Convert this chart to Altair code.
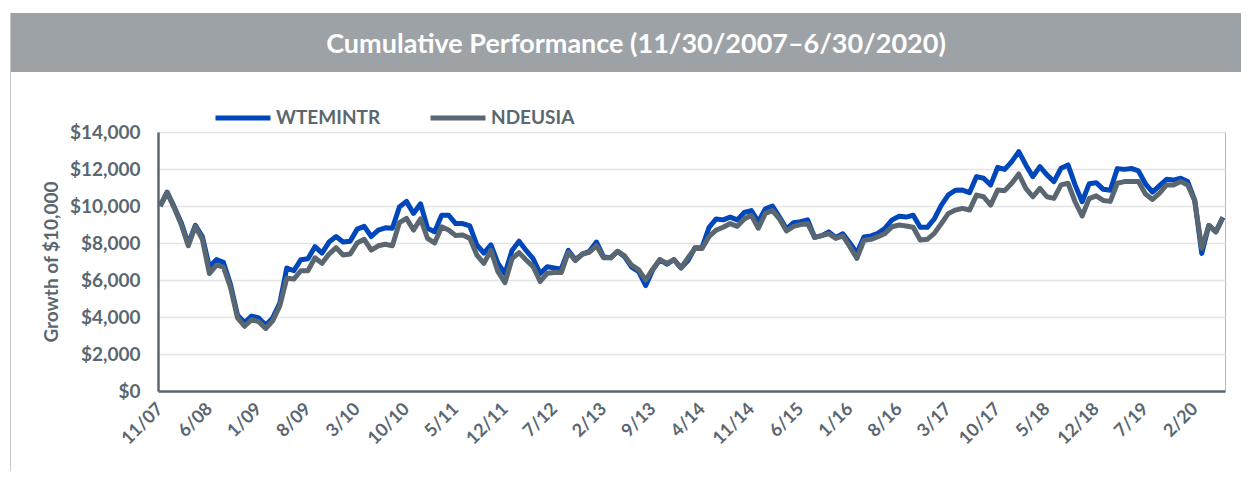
import altair as alt
import pandas as pd

# Month-end dates 11/30/2007 .. 6/30/2020 (152 months)
months = [f"{d.month}/{d.year % 100:02d}" for d in pd.date_range("2007-11-30", periods=152, freq="ME")]

tick_labels = ["11/07", "6/08", "1/09", "8/09", "3/10", "10/10", "5/11", "12/11", "7/12", "2/13",
               "9/13", "4/14", "11/14", "6/15", "1/16", "8/16", "3/17", "10/17", "5/18", "12/18",
               "7/19", "2/20"]

series_names = ["WTEMINTR", "NDEUSIA"]
series_colors = ["#0047BB", "#5B6770"]

# Growth of $10,000
wtemintr = [10000, 10750, 9950, 9100, 7950, 8950, 8350, 6700, 7100, 6950,
            5750, 4100, 3700, 4050, 3950, 3550, 3950, 4750, 6650, 6500,
            7100, 7150, 7800, 7450, 8050, 8350, 8050, 8100, 8750, 8900,
            8350, 8700, 8820, 8800, 9950, 10250, 9600, 10120, 8800, 8600,
            9500, 9500, 9050, 9050, 8920, 7900, 7450, 7900, 6900, 6350,
            7600, 8100, 7600, 7150, 6350, 6720, 6650, 6600, 7600, 7100,
            7400, 7550, 8050, 7250, 7200, 7550, 7250, 6700, 6450, 5700,
            6550, 7100, 6850, 7100, 6650, 7050, 7750, 7750, 8850, 9300,
            9250, 9400, 9250, 9650, 9750, 9150, 9850, 10000, 9400, 8750,
            9100, 9150, 9250, 8300, 8400, 8600, 8300, 8500, 8000, 7450,
            8320, 8380, 8520, 8800, 9250, 9450, 9400, 9500, 8850, 8850,
            9300, 10050, 10600, 10850, 10860, 10720, 11590, 11500, 11140, 12090,
            11980, 12400, 12940, 12220, 11590, 12130, 11680, 11320, 12040, 12220,
            11140, 10230, 11200, 11260, 10900, 10850, 12020, 11980, 12030, 11900,
            11200, 10750, 11100, 11440, 11400, 11500, 11320, 10300, 7440, 8950,
            8600, 9380]

ndeusia = [10000, 10720, 9900, 9000, 7850, 8900, 8200, 6350, 6800, 6700,
           5600, 3950, 3500, 3850, 3750, 3380, 3800, 4600, 6100, 6050,
           6500, 6500, 7200, 6900, 7400, 7750, 7350, 7400, 8000, 8200,
           7620, 7850, 7930, 7850, 9100, 9330, 8700, 9300, 8250, 8000,
           8880, 8700, 8400, 8430, 8250, 7350, 6900, 7600, 6450, 5860,
           7150, 7480, 7080, 6720, 5920, 6360, 6400, 6400, 7500, 7050,
           7400, 7500, 7850, 7200, 7200, 7550, 7300, 6800, 6550, 6000,
           6600, 7100, 6900, 7100, 6650, 7200, 7700, 7700, 8350, 8700,
           8850, 9050, 8900, 9300, 9500, 8800, 9600, 9750, 9300, 8650,
           8900, 9000, 9050, 8300, 8400, 8500, 8250, 8380, 7800, 7170,
           8150, 8200, 8340, 8520, 8880, 8970, 8920, 8850, 8160, 8200,
           8520, 9050, 9600, 9780, 9870, 9780, 10590, 10500, 10050, 10860,
           10830, 11230, 11730, 10950, 10500, 10950, 10500, 10410, 11140, 11230,
           10230, 9460, 10400, 10550, 10300, 10250, 11230, 11320, 11320, 11320,
           10650, 10350, 10700, 11140, 11140, 11320, 11140, 10280, 7710, 8950,
           8600, 9380]

title_text = "Cumulative Performance (11/30/2007\u20136/30/2020)"
y_title = "Growth of $10,000"

rows = []
for name, vals in zip(series_names, [wtemintr, ndeusia]):
    for i, v in enumerate(vals):
        rows.append({"idx": i, "month": months[i], "series": name, "value": v})
df = pd.DataFrame(rows)

tick_idx = [months.index(t) for t in tick_labels]
label_expr = "[" + ",".join(f"'{m}'" for m in months) + "][round(datum.value)]"

TXT = "#5B6770"

color = alt.Color(
    "series:N",
    scale=alt.Scale(domain=series_names, range=series_colors),
    legend=alt.Legend(
        title=None, orient="none", direction="horizontal", legendX=55, legendY=-44,
        symbolType="stroke", symbolSize=3025, symbolStrokeWidth=5,
        labelFont="Lato", labelFontSize=19, labelFontWeight="bold", labelColor=TXT,
        labelOffset=3, columnPadding=39,
    ),
)

x = alt.X(
    "idx:Q",
    scale=alt.Scale(domain=[-0.3, 151.3], nice=False, zero=False),
    axis=alt.Axis(
        values=tick_idx, labelExpr=label_expr, labelAngle=-45, labelAlign="right",
        labelBaseline="middle", labelPadding=15, labelFontSize=18, grid=False, ticks=False,
        domainColor=TXT, domainWidth=2.5, title=None, labelOverlap=False,
    ),
)
y = alt.Y(
    "value:Q",
    scale=alt.Scale(domain=[0, 14000], nice=False),
    axis=alt.Axis(
        values=list(range(0, 14001, 2000)), format="$,.0f", title=y_title,
        labelPadding=18, labelFontSize=19, titlePadding=8, titleFontSize=19,
        titleFontWeight="bold", titleFont="Lato", titleColor=TXT,
        grid=True, gridColor="#E4E4E4", gridWidth=1.5,
        ticks=False, domainColor=TXT, domainWidth=2.5,
    ),
)

base = alt.Chart(df)
blue = base.transform_filter(alt.datum.series == series_names[0]).mark_line(
    strokeWidth=5, strokeJoin="round").encode(x=x, y=y, color=color)
gray = base.transform_filter(alt.datum.series == series_names[1]).mark_line(
    strokeWidth=5, strokeJoin="round").encode(x=x, y=y, color=color)

deco = alt.Chart(alt.Data(values=[{"t": title_text}]))
band = deco.mark_rect(color="#9DA2A7").encode(
    x=alt.value(-148), x2=alt.value(1100), y=alt.value(-119), y2=alt.value(-60))
border = deco.mark_rule(color="#C5C9CC", strokeWidth=1).encode(
    x=alt.value(-147.5), y=alt.value(-119), y2=alt.value(420))
title = deco.mark_text(font="Lato", fontSize=27, fontWeight="bold", color="white",
                       align="center", baseline="middle").encode(
    x=alt.value(478), y=alt.value(-87), text="t:N")

chart = alt.layer(band, border, title, blue, gray).properties(
    width=1067, height=259, autosize="none",
    padding={"left": 150, "top": 124, "right": 16, "bottom": 80},
).configure_view(stroke="#B5BABE", strokeWidth=1).configure_axis(
    labelFont="Lato", labelFontWeight="bold", labelFontSize=18, labelColor=TXT,
    titleFont="Lato", titleFontWeight="bold", titleFontSize=16, titleColor=TXT,
)

chart.save("out.html", embed_options={"renderer": "svg", "actions": False})
